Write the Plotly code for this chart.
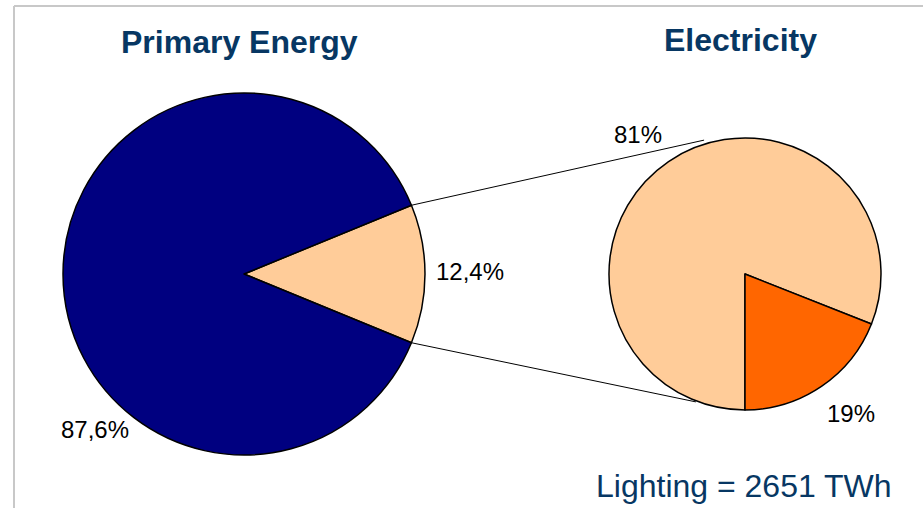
import math
import plotly.graph_objects as go

W, H = 923, 508

# Data
primary_labels = ["Electricity", "Other primary energy"]
primary_values = [12.4, 87.6]
primary_text = ["12,4%", "87,6%"]

elec_labels = ["Other electricity", "Lighting"]
elec_values = [81, 19]
elec_text = ["81%", "19%"]

titles = ["Primary Energy", "Electricity"]
footer = "Lighting = 2651 TWh"

C_NAVY = "#000080"
C_PEACH = "#FFCC99"
C_ORANGE = "#FF6600"
C_TITLE = "#073763"

# geometry (pixels)
L_CX, L_CY, L_R = 244, 274, 181
R_CX, R_CY, R_R = 745, 274, 136


def px(x):
    return x / W


def py(y):
    return 1 - y / H


def dom(cx, cy, r):
    return dict(x=[px(cx - r), px(cx + r)], y=[py(cy + r), py(cy - r)])


# rotate the small slice to be centred on 3 o'clock
half = primary_values[0] / sum(primary_values) * 360 / 2
rot_left = 90 - half

fig = go.Figure()
fig.add_trace(go.Pie(
    labels=primary_labels, values=primary_values, sort=False,
    direction="clockwise", rotation=rot_left, domain=dom(L_CX, L_CY, L_R),
    marker=dict(colors=[C_PEACH, C_NAVY], line=dict(color="black", width=1.5)),
    textinfo="none", showlegend=False, hoverinfo="label+percent",
))
fig.add_trace(go.Pie(
    labels=elec_labels, values=elec_values, sort=False,
    direction="clockwise", rotation=180, domain=dom(R_CX, R_CY, R_R),
    marker=dict(colors=[C_PEACH, C_ORANGE], line=dict(color="black", width=1.5)),
    textinfo="none", showlegend=False, hoverinfo="label+percent",
))

shapes = []
# frame
shapes.append(dict(type="line", xref="paper", yref="paper",
                   x0=px(14), y0=py(6), x1=1, y1=py(6),
                   line=dict(color="#C8C8C8", width=2)))
shapes.append(dict(type="line", xref="paper", yref="paper",
                   x0=px(14), y0=py(6), x1=px(14), y1=0,
                   line=dict(color="#C8C8C8", width=2)))

# connector lines
a = math.radians(half)
ux, uy = L_CX + L_R * math.cos(a), L_CY - L_R * math.sin(a)
lx, ly = L_CX + L_R * math.cos(a), L_CY + L_R * math.sin(a)
b_up = math.radians(17)
b_dn = math.radians(21)
rx_u, ry_u = R_CX - (R_R + 4) * math.sin(b_up), R_CY - (R_R + 4) * math.cos(b_up)
rx_d, ry_d = R_CX - (R_R + 1) * math.sin(b_dn), R_CY + (R_R + 1) * math.cos(b_dn)
for (x0, y0, x1, y1) in [(ux, uy, rx_u, ry_u), (lx, ly, rx_d, ry_d)]:
    shapes.append(dict(type="line", xref="paper", yref="paper",
                       x0=px(x0), y0=py(y0), x1=px(x1), y1=py(y1),
                       line=dict(color="black", width=1)))

FONT = "Liberation Sans, Arial, sans-serif"
ann = []
ann.append(dict(x=px(240), y=py(42), text="<b>" + titles[0] + "</b>", showarrow=False,
                xref="paper", yref="paper", xanchor="center", yanchor="middle",
                font=dict(family=FONT, size=32, color=C_TITLE)))
ann.append(dict(x=px(740), y=py(40), text="<b>" + titles[1] + "</b>", showarrow=False,
                xref="paper", yref="paper", xanchor="center", yanchor="middle",
                font=dict(family=FONT, size=32, color=C_TITLE)))
label_pos = [(470, 271), (95, 429), (638, 134), (851, 413)]
for t, (x, y) in zip(primary_text + elec_text, label_pos):
    ann.append(dict(x=px(x), y=py(y), text=t, showarrow=False,
                    xref="paper", yref="paper", xanchor="center", yanchor="middle",
                    font=dict(family=FONT, size=24, color="black")))
ann.append(dict(x=px(744), y=py(486), text=footer, showarrow=False,
                xref="paper", yref="paper", xanchor="center", yanchor="middle",
                font=dict(family=FONT, size=32, color=C_TITLE)))

fig.update_layout(
    width=W, height=H, margin=dict(l=0, r=0, t=0, b=0),
    paper_bgcolor="white", plot_bgcolor="white",
    shapes=shapes, annotations=ann, showlegend=False,
)
fig.write_html("out.html")
